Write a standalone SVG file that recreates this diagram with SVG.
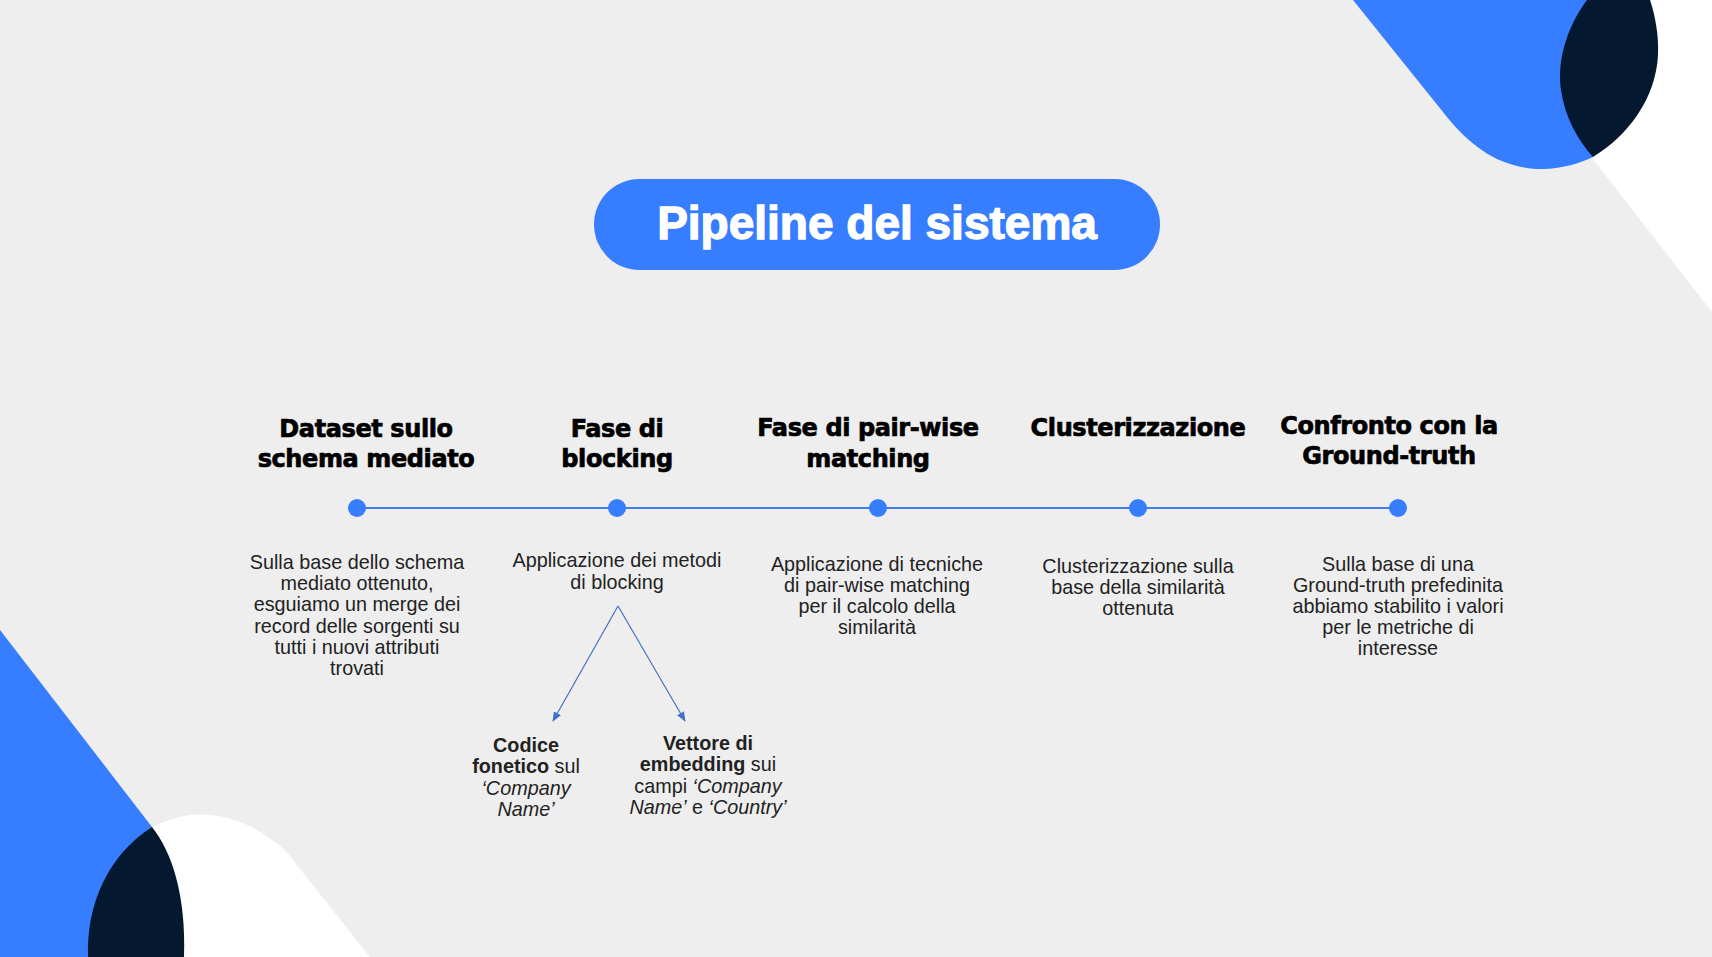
<svg xmlns="http://www.w3.org/2000/svg" width="1712" height="957" viewBox="0 0 1712 957">
  <style>
    .bg { fill: #EEEEEE; }
    .white { fill: #FFFFFF; }
    .blue { fill: #377DFF; }
    .navy { fill: #04182F; }
    .title { font-family: "Liberation Sans", Arial, sans-serif; font-weight: bold; font-size: 46px; fill: #FFFFFF; text-anchor: middle; stroke: #FFFFFF; stroke-width: 1.3px; }
    .head { font-family: "DejaVu Sans", "Liberation Sans", sans-serif; font-weight: bold; font-size: 24px; fill: #000000; text-anchor: middle; letter-spacing: -0.4px; stroke: #000000; stroke-width: 0.7px; }
    .desc { font-family: "Liberation Sans", Arial, sans-serif; font-size: 19.8px; fill: #222222; text-anchor: middle; }
    .b { font-weight: bold; }
    .i { font-style: italic; }
    .dot { fill: #377DFF; }
    .tline { stroke: #3F7EF0; stroke-width: 2; fill: none; }
    .arrow { stroke: #4472C4; stroke-width: 1.2; fill: none; marker-end: url(#ah); }
  </style>
  <defs>
    <marker id="ah" viewBox="0 0 10 8" refX="9" refY="4" markerWidth="10" markerHeight="8" markerUnits="userSpaceOnUse" orient="auto">
      <path d="M0,0 L10,4 L0,8 Z" fill="#4472C4"/>
    </marker>
  </defs>

  <!-- background -->
  <rect class="bg" x="0" y="0" width="1712" height="957"/>
  <path class="white" d="M1469,0 L1712,0 L1712,312 Z"/>
  <path class="white" d="M140,835 C165,818 190,813 210,815 C235,817 258,828 280,846 C287,852 292,858 296,864 L370,957 L100,957 Z"/>
  <path class="blue" d="M1353,0 L1443,112 C1472,150 1505,170 1545,169 C1565,168 1580,163 1593,157 L1640,0 Z"/>
  <path class="navy" d="M1587,0 C1566,28 1557,62 1561,90 C1565,118 1578,140 1593,157 C1628,136 1656,98 1658,55 C1659,35 1655,15 1650,0 Z"/>
  <path class="blue" d="M0,630 L152,827 L140,957 L0,957 Z"/>
  <path class="navy" d="M152,827 C172,852 186,895 184,957 L88,957 C86,905 108,855 152,827 Z"/>

  <!-- title -->
  <g id="title">
    <rect class="blue" x="594" y="179" width="566" height="91" rx="45.5"/>
    <text class="title" x="877" y="239">Pipeline del sistema</text>
  </g>

  <!-- connectors -->
  <g id="connectors">
    <line class="tline" x1="357" y1="508" x2="1398" y2="508"/>
    <line class="arrow" x1="618" y1="606" x2="553" y2="721"/>
    <line class="arrow" x1="618" y1="606" x2="685" y2="721"/>
  </g>

  <!-- stages -->
  <g id="stage1">
    <text class="head" x="366" y="437">Dataset sullo</text>
    <text class="head" x="366" y="467">schema mediato</text>
    <circle class="dot" cx="357" cy="508" r="9"/>
    <text class="desc" x="357" y="569">Sulla base dello schema</text>
    <text class="desc" x="357" y="590">mediato ottenuto,</text>
    <text class="desc" x="357" y="611">esguiamo un merge dei</text>
    <text class="desc" x="357" y="633">record delle sorgenti su</text>
    <text class="desc" x="357" y="654">tutti i nuovi attributi</text>
    <text class="desc" x="357" y="675">trovati</text>
  </g>

  <g id="stage2">
    <text class="head" x="617" y="437">Fase di</text>
    <text class="head" x="617" y="467">blocking</text>
    <circle class="dot" cx="617" cy="508" r="9"/>
    <text class="desc" x="617" y="567">Applicazione dei metodi</text>
    <text class="desc" x="617" y="589">di blocking</text>
  </g>

  <g id="stage3">
    <text class="head" x="868" y="436">Fase di pair-wise</text>
    <text class="head" x="868" y="467">matching</text>
    <circle class="dot" cx="878" cy="508" r="9"/>
    <text class="desc" x="877" y="571">Applicazione di tecniche</text>
    <text class="desc" x="877" y="592">di pair-wise matching</text>
    <text class="desc" x="877" y="613">per il calcolo della</text>
    <text class="desc" x="877" y="634">similarità</text>
  </g>

  <g id="stage4">
    <text class="head" x="1138" y="436">Clusterizzazione</text>
    <circle class="dot" cx="1138" cy="508" r="9"/>
    <text class="desc" x="1138" y="573">Clusterizzazione sulla</text>
    <text class="desc" x="1138" y="594">base della similarità</text>
    <text class="desc" x="1138" y="615">ottenuta</text>
  </g>

  <g id="stage5">
    <text class="head" x="1389" y="434">Confronto con la</text>
    <text class="head" x="1389" y="464">Ground-truth</text>
    <circle class="dot" cx="1398" cy="508" r="9"/>
    <text class="desc" x="1398" y="571">Sulla base di una</text>
    <text class="desc" x="1398" y="592">Ground-truth prefedinita</text>
    <text class="desc" x="1398" y="613">abbiamo stabilito i valori</text>
    <text class="desc" x="1398" y="634">per le metriche di</text>
    <text class="desc" x="1398" y="655">interesse</text>
  </g>

  <!-- blocking sub-nodes -->
  <g id="phonetic">
    <text class="desc" x="526" y="752"><tspan class="b">Codice</tspan></text>
    <text class="desc" x="526" y="773"><tspan class="b">fonetico</tspan> sul</text>
    <text class="desc" x="526" y="795"><tspan class="i">‘Company</tspan></text>
    <text class="desc" x="526" y="816"><tspan class="i">Name’</tspan></text>
  </g>

  <g id="embedding">
    <text class="desc" x="708" y="750"><tspan class="b">Vettore di</tspan></text>
    <text class="desc" x="708" y="771"><tspan class="b">embedding</tspan> sui</text>
    <text class="desc" x="708" y="793">campi <tspan class="i">‘Company</tspan></text>
    <text class="desc" x="708" y="814"><tspan class="i">Name’</tspan> e <tspan class="i">‘Country’</tspan></text>
  </g>
</svg>
